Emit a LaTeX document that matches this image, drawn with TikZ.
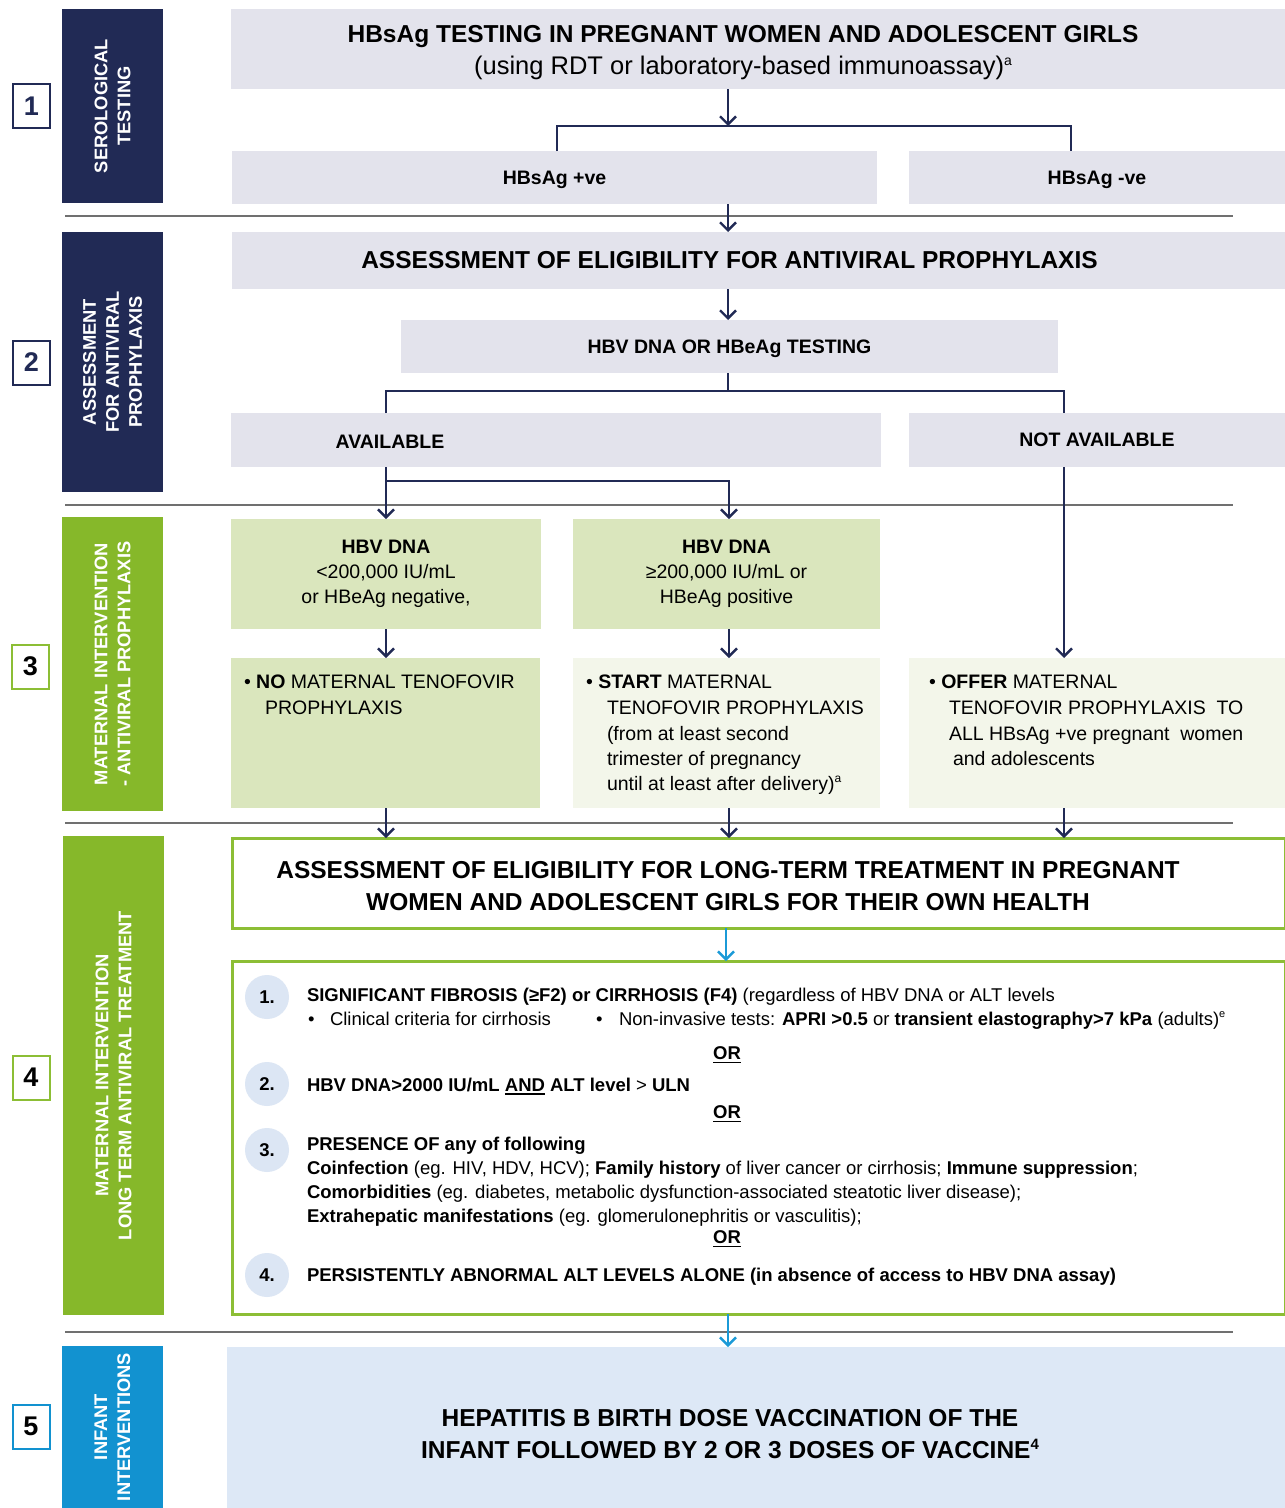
\documentclass[tikz,border=0pt]{standalone}
\usepackage{fontspec}
\setmainfont{Liberation Sans}
\usetikzlibrary{arrows.meta}
\definecolor{navy}{HTML}{212A55}
\definecolor{boxgray}{HTML}{E3E3EC}
\definecolor{bargreen}{HTML}{86B82A}
\definecolor{bordgreen}{HTML}{8CBE35}
\definecolor{lgreen}{HTML}{DAE6BD}
\definecolor{vlgreen}{HTML}{F3F6EA}
\definecolor{barblue}{HTML}{1292D0}
\definecolor{lblue}{HTML}{DDE8F6}
\definecolor{circfill}{HTML}{DCE6F4}
\definecolor{arrblue}{HTML}{1B9AD7}
\definecolor{sepgray}{HTML}{707070}
\newcommand\myul[1]{\setbox0\hbox{#1}\rlap{\rule[-3.5pt]{\wd0}{1.6pt}}\box0\relax}
\newcommand\mysup[2][9]{\raisebox{0.38em}{\fontsize{#1}{#1}\selectfont #2}}
\begin{document}
\begin{tikzpicture}[x=1pt,y=-1pt,
  every node/.style={inner sep=0pt,outer sep=0pt},
  rect/.style={anchor=north west,draw=none},
  headf/.style={font=\fontsize{24.5}{32}\selectfont\bfseries},
  subf/.style={font=\fontsize{19.5}{25}\selectfont\bfseries},
  bodyf/.style={font=\fontsize{19.5}{25}\selectfont},
  critf/.style={font=\fontsize{18.5}{24}\selectfont,anchor=base west},
  line3/.style={font=\fontsize{19.5}{25}\selectfont,anchor=base west},
  barf/.style={font=\fontsize{18.3}{23}\selectfont\bfseries,text=white,rotate=90,align=center},
  numbox/.style={draw=#1,line width=2pt,fill=white,minimum width=37,minimum height=44,font=\fontsize{27}{27}\selectfont\bfseries},
  sepline/.style={draw=sepgray,line width=1.4pt},
  navline/.style={draw=navy,line width=2.4pt},
  navarrow/.style={navline,-{Straight Barb[length=8pt,width=16pt]}},
  bluearrow/.style={draw=arrblue,line width=2.4pt,-{Straight Barb[length=8pt,width=16pt]}},
  circ/.style={circle,fill=circfill,minimum size=44,font=\fontsize{18.5}{20}\selectfont\bfseries},
  orf/.style={font=\fontsize{18.5}{20}\selectfont\bfseries}
]
\useasboundingbox (0,0) rectangle (1285,1508);

% ---------- left column ----------
\node[rect,fill=navy,minimum width=101,minimum height=194] (bar1) at (62,9) {};
\node[barf] (bar1t) at (bar1.center) {SEROLOGICAL\\TESTING};
\node[rect,fill=navy,minimum width=101,minimum height=260] (bar2) at (62,232) {};
\node[barf] (bar2t) at (bar2.center) {ASSESSMENT\\FOR ANTIVIRAL\\PROPHYLAXIS};
\node[rect,fill=bargreen,minimum width=101,minimum height=294] (bar3) at (62,517) {};
\node[barf] (bar3t) at (bar3.center) {MATERNAL INTERVENTION\\- ANTIVIRAL PROPHYLAXIS};
\node[rect,fill=bargreen,minimum width=101,minimum height=479] (bar4) at (63,836) {};
\node[barf] (bar4t) at (bar4.center) {MATERNAL INTERVENTION\\LONG TERM ANTIVIRAL TREATMENT};
\node[rect,fill=barblue,minimum width=101,minimum height=162] (bar5) at (62,1346) {};
\node[barf] (bar5t) at (bar5.center) {INFANT\\INTERVENTIONS};

\node[numbox=navy,text=navy] (n1) at (31.5,106) {1};
\node[numbox=navy,text=navy] (n2) at (31.5,362.5) {2};
\node[numbox=bordgreen,text=black] (n3) at (30.5,666.5) {3};
\node[numbox=bordgreen,text=black] (n4) at (31,1077.5) {4};
\node[numbox=barblue,text=black] (n5) at (31,1426.5) {5};

% ---------- separators ----------
\draw[sepline] (65,216) -- (1233,216);
\draw[sepline] (65,505) -- (1233,505);
\draw[sepline] (65,823) -- (1233,823);
\draw[sepline] (65,1332) -- (1233,1332);

% ---------- section 1 ----------
\node[rect,fill=boxgray,minimum width=1054,minimum height=80] (s1box) at (231,9) {};
\node[headf,align=center] (s1title) at (743,53) {HBsAg TESTING IN PREGNANT WOMEN AND ADOLESCENT GIRLS\\{\mdseries\fontsize{25.5}{32}\selectfont (using RDT or laboratory-based immunoassay)\mysup[14]{a}}};
\node[rect,fill=boxgray,minimum width=645,minimum height=53,subf,text depth=0pt] (pos) at (232,151) {HBsAg +ve};
\node[rect,fill=boxgray,minimum width=376,minimum height=53,subf,text depth=0pt] (neg) at (909,151) {HBsAg -ve};

\coordinate (b1) at (728,126);
\coordinate (l1) at (557,126);
\coordinate (r1) at (1071,126);
\draw[navarrow] (s1box.south -| b1) -- (b1);
\draw[navline] (pos.north -| l1) -- (l1) -- (r1) -- (neg.north -| r1);

% ---------- section 2 ----------
\node[rect,fill=boxgray,minimum width=1053,minimum height=57] (s2box) at (232,232) {};
\node[headf] (s2title) at (729.5,260) {ASSESSMENT OF ELIGIBILITY FOR ANTIVIRAL PROPHYLAXIS};
\draw[navarrow] (pos.south -| b1) -- (s2box.north -| b1);
\node[rect,fill=boxgray,minimum width=657,minimum height=53,subf,text depth=0pt] (test) at (401,320) {HBV DNA OR HBeAg TESTING};
\draw[navarrow] (s2box.south -| b1) -- (test.north -| b1);
\node[rect,fill=boxgray,minimum width=650,minimum height=54] (avail) at (231,413) {};
\node[subf] (availt) at (390,442) {AVAILABLE};
\node[rect,fill=boxgray,minimum width=376,minimum height=54,subf,text depth=0pt] (navail) at (909,413) {NOT AVAILABLE};

\coordinate (b2) at (728,391);
\coordinate (l2) at (386,391);
\coordinate (r2) at (1064,391);
\draw[navline] (test.south -| b2) -- (b2);
\draw[navline] (avail.north -| l2) -- (l2) -- (r2) -- (navail.north -| r2);

% ---------- section 3 ----------
\node[rect,fill=lgreen,minimum width=310,minimum height=110,bodyf,align=center] (dnalow) at (231,519) {\textbf{HBV DNA}\\<200,000 IU/mL\\or HBeAg negative,};
\node[rect,fill=lgreen,minimum width=307,minimum height=110,bodyf,align=center] (dnahigh) at (573,519) {\textbf{HBV DNA}\\≥200,000 IU/mL or\\HBeAg positive};
\node[rect,fill=lgreen,minimum width=309,minimum height=150] (no) at (231,658) {};
\node[rect,fill=vlgreen,minimum width=307,minimum height=150] (start) at (573,658) {};
\node[rect,fill=vlgreen,minimum width=376,minimum height=150] (offer) at (909,658) {};

\coordinate (l3) at (386,481);
\coordinate (m3) at (729,481);
\draw[navarrow] (avail.south -| l3) -- (dnalow.north -| l3);
\draw[navarrow] (l3) -- (m3) -- (dnahigh.north -| m3);
\draw[navarrow] (navail.south -| r2) -- (offer.north -| r2);
\draw[navarrow] (dnalow.south -| l3) -- (no.north -| l3);
\draw[navarrow] (dnahigh.south -| m3) -- (start.north -| m3);

\node[line3] (noa) at (244,688) {• \textbf{NO} MATERNAL TENOFOVIR};
\node[line3] (nob) at (265,714) {PROPHYLAXIS};
\node[line3] (sta) at (586,688) {• \textbf{START} MATERNAL};
\node[line3] (stb) at (607,714) {TENOFOVIR PROPHYLAXIS};
\node[line3] (stc) at (607,740) {(from at least second};
\node[line3] (std) at (607,765) {trimester of pregnancy};
\node[line3] (ste) at (607,790) {until at least after delivery)\mysup[12]{a}};
\node[line3] (ofa) at (929,688) {• \textbf{OFFER} MATERNAL};
\node[line3] (ofb) at (949,714) {TENOFOVIR PROPHYLAXIS\ \ TO};
\node[line3] (ofc) at (949,740) {ALL HBsAg +ve pregnant\ \ women};
\node[line3] (ofd) at (953,765) {and adolescents};

% ---------- section 4 ----------
\node[rect,fill=white,draw=bordgreen,line width=3pt,minimum width=1053,minimum height=90] (lt) at (232,838) {};
\node[headf,align=center] (ltt) at (728,886) {ASSESSMENT OF ELIGIBILITY FOR LONG-TERM TREATMENT IN PREGNANT\\WOMEN AND ADOLESCENT GIRLS FOR THEIR OWN HEALTH};
\draw[navarrow] (no.south -| l3) -- (lt.north -| l3);
\draw[navarrow] (start.south -| m3) -- (lt.north -| m3);
\draw[navarrow] (offer.south -| r2) -- (lt.north -| r2);

\node[rect,fill=white,draw=bordgreen,line width=3pt,minimum width=1053,minimum height=353] (crit) at (232,961) {};
\coordinate (b4) at (726,0);
\draw[bluearrow] (lt.south -| b4) -- (crit.north -| b4);

\node[circ] (c1) at (267,997) {1.};
\node[circ] (c2) at (267,1084) {2.};
\node[circ] (c3) at (267,1150) {3.};
\node[circ] (c4) at (267,1275) {4.};

\node[critf] (k1a) at (307,1001) {\textbf{SIGNIFICANT FIBROSIS (≥F2) or CIRRHOSIS (F4)} (regardless of HBV DNA or ALT levels};
\node[critf] (k1b) at (308,1025) {•};
\node[critf] (k1c) at (330,1025) {Clinical criteria for cirrhosis};
\node[critf] (k1d) at (596,1025) {•};
\node[critf] (k1e) at (619,1025) {Non-invasive tests: \textbf{APRI >0.5} or \textbf{transient elastography>7 kPa} (adults)\mysup[11]{e}};
\node[orf] (or1) at (727,1055) {\myul{OR}};
\node[critf] (k2) at (307,1091) {\textbf{HBV DNA>2000 IU/mL \myul{AND} ALT level} > \textbf{ULN}};
\node[orf] (or2) at (727,1114) {\myul{OR}};
\node[critf] (k3a) at (307,1150) {\textbf{PRESENCE OF any of following}};
\node[critf] (k3b) at (307,1174) {\textbf{Coinfection} (eg. HIV, HDV, HCV); \textbf{Family history} of liver cancer or cirrhosis; \textbf{Immune suppression};};
\node[critf] (k3c) at (307,1198) {\textbf{Comorbidities} (eg. diabetes, metabolic dysfunction-associated steatotic liver disease);};
\node[critf] (k3d) at (307,1222) {\textbf{Extrahepatic manifestations} (eg. glomerulonephritis or vasculitis);};
\node[orf] (or3) at (727,1239) {\myul{OR}};
\node[critf] (k4) at (307,1281) {\textbf{PERSISTENTLY ABNORMAL ALT LEVELS ALONE (in absence of access to HBV DNA assay)}};

% ---------- section 5 ----------
\node[rect,fill=lblue,minimum width=1058,minimum height=161] (s5) at (227,1347) {};
\node[headf,align=center] (s5t) at (730,1434) {HEPATITIS B BIRTH DOSE VACCINATION OF THE\\INFANT FOLLOWED BY 2 OR 3 DOSES OF VACCINE\mysup[15]{4}};
\coordinate (b5) at (728,0);
\draw[bluearrow] (crit.south -| b5) -- (s5.north -| b5);
\end{tikzpicture}
\end{document}
